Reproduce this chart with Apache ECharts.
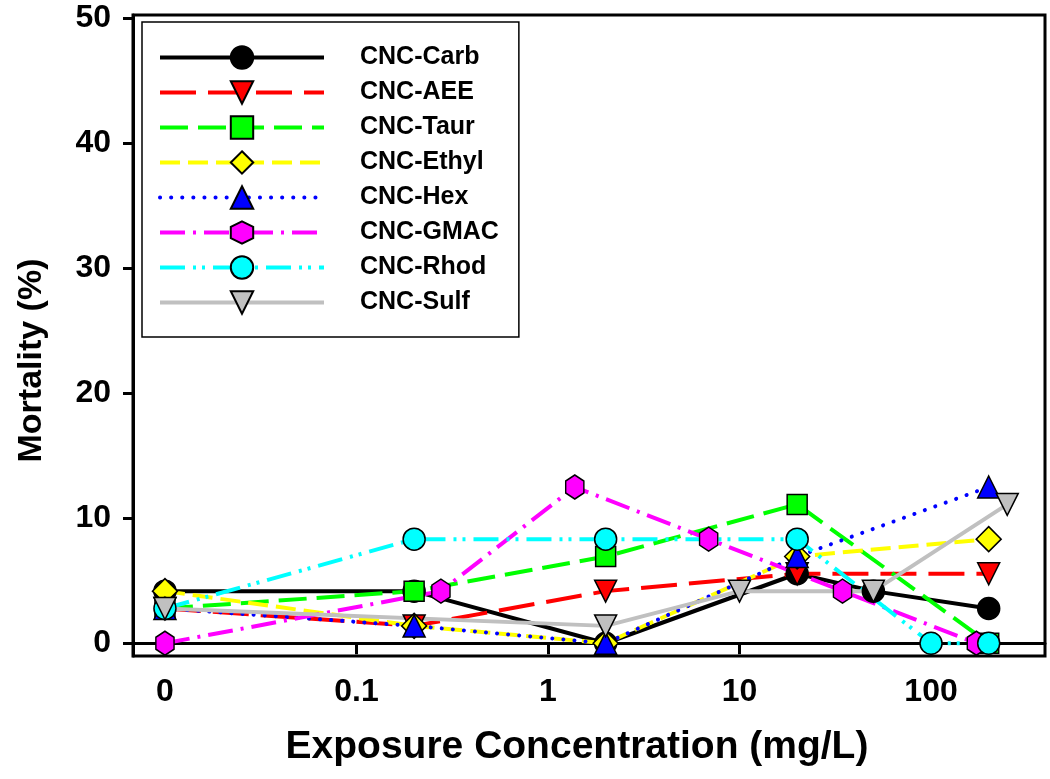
<!DOCTYPE html>
<html>
<head>
<meta charset="utf-8">
<script src="https://cdn.jsdelivr.net/npm/echarts@6/dist/echarts.min.js"></script>
<style>html,body{margin:0;padding:0;background:#fff}#c{width:1050px;height:779px}</style>
</head>
<body>
<div id="c"></div>
<script>
// Control (0 mg/L) is plotted at the 0.01 position of the log axis and labelled "0"
const xTickValues = [0.01, 0.1, 1, 10, 100];
const xTickLabels = ['0', '0.1', '1', '10', '100'];
const yTickValues = [0, 10, 20, 30, 40, 50];

const carbX  = [0.01, 0.2, 2, 20, 50, 200];
const carbY  = [4.17, 4.17, 0, 5.56, 4.17, 2.78];
const aeeX   = [0.01, 0.2, 2, 20, 200];
const aeeY   = [2.78, 1.39, 4.17, 5.56, 5.56];
const taurX  = [0.01, 0.2, 2, 20, 200];
const taurY  = [2.78, 4.17, 6.94, 11.11, 0];
const ethylX = [0.01, 0.2, 2, 20, 200];
const ethylY = [4.17, 1.39, 0, 6.94, 8.33];
const hexX   = [0.01, 0.2, 2, 20, 200];
const hexY   = [2.78, 1.39, 0, 6.94, 12.5];
const gmacX  = [0.01, 0.276, 1.38, 6.9, 34.5, 172.5];
const gmacY  = [0, 4.17, 12.5, 8.33, 4.17, 0];
const rhodX  = [0.01, 0.2, 2, 20, 100, 200];
const rhodY  = [2.78, 8.33, 8.33, 8.33, 0, 0];
const sulfX  = [0.01, 2, 10, 50, 250];
const sulfY  = [2.78, 1.39, 4.17, 4.17, 11.11];

const FONT = 'Liberation Sans, Arial, sans-serif';
const hexPath = 'path://M0,-10L8.66,-5L8.66,5L0,10L-8.66,5L-8.66,-5Z';

function zip(xs, ys) { return xs.map((x, i) => [x, ys[i]]); }

function mk(name, xs, ys, color, dash, symbol, size, rot, cap) {
  return {
    name: name, type: 'line', data: zip(xs, ys),
    symbol: symbol, symbolSize: size, symbolRotate: rot || 0, symbolKeepAspect: true,
    lineStyle: { color: color, width: 4, type: dash, cap: cap || 'butt' },
    itemStyle: { color: color, borderColor: '#000', borderWidth: 1.5 },
    emphasis: { disabled: true }, animation: false
  };
}

const series = [
  mk('CNC-Carb',  carbX,  carbY,  '#000000', 'solid', 'circle', 22),
  mk('CNC-AEE',   aeeX,   aeeY,   '#ff0000', [36, 12], 'triangle', 22, 180),
  mk('CNC-Taur',  taurX,  taurY,  '#00ff00', [28, 10], 'rect', 20),
  mk('CNC-Ethyl', ethylX, ethylY, '#ffff00', [20, 8], 'diamond', [25, 25]),
  mk('CNC-Hex',   hexX,   hexY,   '#0000ff', [0.1, 11], 'triangle', 22, 0, 'round'),
  mk('CNC-GMAC',  gmacX,  gmacY,  '#ff00ff', [25, 8, 3, 8], hexPath, [21, 24]),
  mk('CNC-Rhod',  rhodX,  rhodY,  '#00ffff', [25, 8, 3, 6, 3, 8], 'circle', 22),
  mk('CNC-Sulf',  sulfX,  sulfY,  '#c0c0c0', 'solid', 'triangle', 22, 180)
];

const chart = echarts.init(document.getElementById('c'), null, { renderer: 'canvas' });
chart.setOption({
  backgroundColor: '#fff',
  animation: false,
  textStyle: { fontFamily: FONT },
  grid: { left: 133, right: 5, top: 15, bottom: 123, show: true, borderColor: '#000', borderWidth: 3, backgroundColor: 'transparent' },
  legend: {
    orient: 'vertical', left: 142, top: 22,
    itemWidth: 164, itemHeight: 28, itemGap: 10,
    padding: [23, 20, 22, 16],
    borderColor: '#000', borderWidth: 1.5, backgroundColor: '#fff',
    lineStyle: { width: 4 },
    textStyle: { fontFamily: FONT, fontSize: 25, fontWeight: 'bold', color: '#000', padding: [0, 0, 0, 31] },
    selectedMode: false
  },
  xAxis: {
    type: 'log', logBase: 10, min: 0.00681, max: 393.6,
    name: 'Exposure Concentration (mg/L)', nameLocation: 'middle', nameGap: 72,
    nameTextStyle: { fontFamily: FONT, fontSize: 39, fontWeight: 'bold', color: '#000', padding: [0, 24, 0, 0] },
    axisLine: { show: true, lineStyle: { color: '#000', width: 3 } },
    axisTick: { show: true, inside: false, length: 11, lineStyle: { color: '#000', width: 3 }, customValues: xTickValues },
    axisLabel: {
      customValues: xTickValues, margin: 20, fontFamily: FONT, fontSize: 32, fontWeight: 'bold', color: '#000',
      formatter: function (v) { const i = xTickValues.findIndex(t => Math.abs(Math.log10(t) - Math.log10(v)) < 1e-6); return i >= 0 ? xTickLabels[i] : ''; }
    },
    splitLine: { show: false }, minorTick: { show: false }
  },
  yAxis: {
    type: 'value', min: -1.02, max: 50.26,
    name: 'Mortality (%)', nameLocation: 'middle', nameGap: 84,
    nameTextStyle: { fontFamily: FONT, fontSize: 34, fontWeight: 'bold', color: '#000', padding: [0, 50, 0, 0] },
    axisLine: { show: true, lineStyle: { color: '#000', width: 3 } },
    axisTick: { show: true, length: 10, lineStyle: { color: '#000', width: 3 }, customValues: yTickValues },
    axisLabel: { customValues: yTickValues, margin: 22, fontFamily: FONT, fontSize: 32, fontWeight: 'bold', color: '#000' },
    splitLine: { show: false }
  },
  series: series
});
</script>
</body>
</html>
